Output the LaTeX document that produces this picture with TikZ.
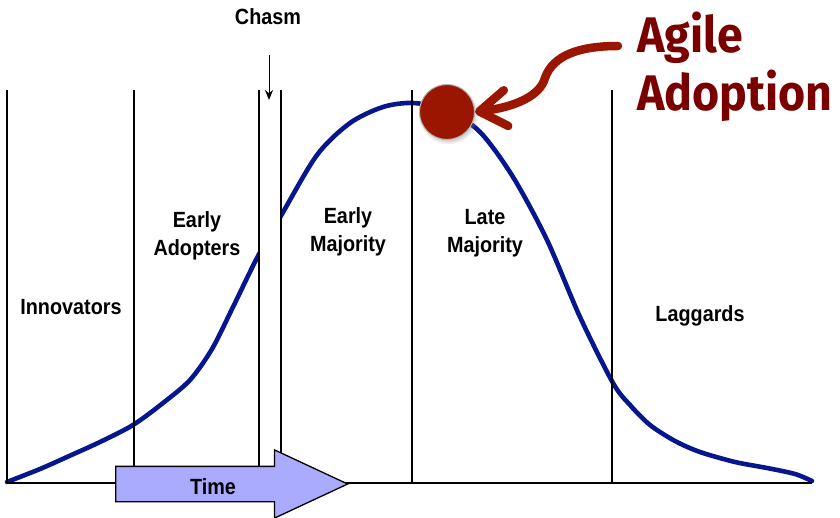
\documentclass[tikz,border=0pt]{standalone}
\usepackage{fontspec}
\setmainfont{Liberation Sans}
\newfontfamily\phasefont{Liberation Sans}[FakeStretch=0.9]
\newfontfamily\agilefont{Fira Sans}[FakeStretch=0.93]
\usepackage{tikz}
\usetikzlibrary{positioning,arrows.meta,shapes.arrows,shadows}

\definecolor{curveblue}{HTML}{06168F}
\definecolor{agilered}{HTML}{9A1600}
\definecolor{agiletext}{HTML}{7A0000}
\definecolor{timefill}{HTML}{AAAAFF}

\begin{document}
\begin{tikzpicture}[
  x=1pt, y=-1pt,
  phase/.style={font=\phasefont\bfseries\fontsize{22}{28}\selectfont, align=center, inner sep=0pt},
  divider/.style={line width=1.3pt, black},
  bell/.style={line width=4.6pt, curveblue, line cap=round},
  timearrow/.style={
    single arrow, draw=black, line width=1.3pt, fill=timefill,
    minimum height=232pt, single arrow head extend=16.5pt,
    single arrow tip angle=50, inner sep=0pt, text height=34pt, text depth=0pt,
  },
  dotstyle/.style={circle, fill=agilered, draw=gray!60, line width=1pt,
    minimum size=55pt, inner sep=0pt,
    circular drop shadow={shadow xshift=1pt, shadow yshift=-2pt, opacity=0.35}},
  chasmarr/.style={-{Stealth[length=10pt,width=8pt]}, line width=1pt},
  swirl/.style={-{Straight Barb[round,length=27pt,width=36pt]}, line width=8.5pt,
    agilered, line cap=round},
]
\useasboundingbox (0,0) rectangle (840,518);

% bell curve, broken at the chasm
\def\bellpts{(7,482) (40,469) (67,457) (100,442) (133,425) (163,403) (190,380)
  (212,349) (233,307) (258,256) (282,214) (317,155) (350,123) (383,107) (413,103)
  (447,110) (480,132) (513,177) (547,240) (580,317) (613,383) (630,405) (650,425)
  (675,441) (700,452) (735,462) (767,468) (795,474) (812,481)}
\begin{scope}
  \clip (0,0) rectangle (259,518);
  \draw[bell] plot[smooth, tension=0.5] coordinates \bellpts;
\end{scope}
\begin{scope}
  \clip (281,0) rectangle (840,518);
  \draw[bell] plot[smooth, tension=0.5] coordinates \bellpts;
\end{scope}

\foreach \x in {7,134,259,281,412,612}
  \draw[divider] (\x,90) -- (\x,483);
\draw[divider] (7,483) -- (812,483);

\node[phase] (innov) at (71,307) {Innovators};
\node[phase] (early) at (197,236) {Early\\Adopters};
\node[phase] (earlymaj) at (348,232) {Early\\Majority};
\node[phase] (latemaj) at (485,233) {Late\\Majority};
\node[phase] (lagg) at (700,316) {Laggards};

\node[phase] (chasm) at (268,17) {Chasm};
\coordinate (gap) at (269,100);
\draw[chasmarr, shorten <=30pt] (chasm.south -| gap) -- (gap);

\node[timearrow, anchor=tail] (timebar) at (115,484) {};
\node[phase] (time) at (213,487) {Time};

\node[dotstyle] (dot) at (447,112) {};
\node[font=\agilefont\bfseries\fontsize{50}{58}\selectfont, text=agiletext,
  align=left, inner sep=0pt, anchor=north west] (agile) at (637,12) {Agile\\Adoption};
\coordinate (swirlstart) at (618,46);
\draw[swirl] (swirlstart) .. controls (580,46) and (553,55) .. (545,78)
  .. controls (540,96) and (515,107) .. (dot.east);

\end{tikzpicture}
\end{document}
